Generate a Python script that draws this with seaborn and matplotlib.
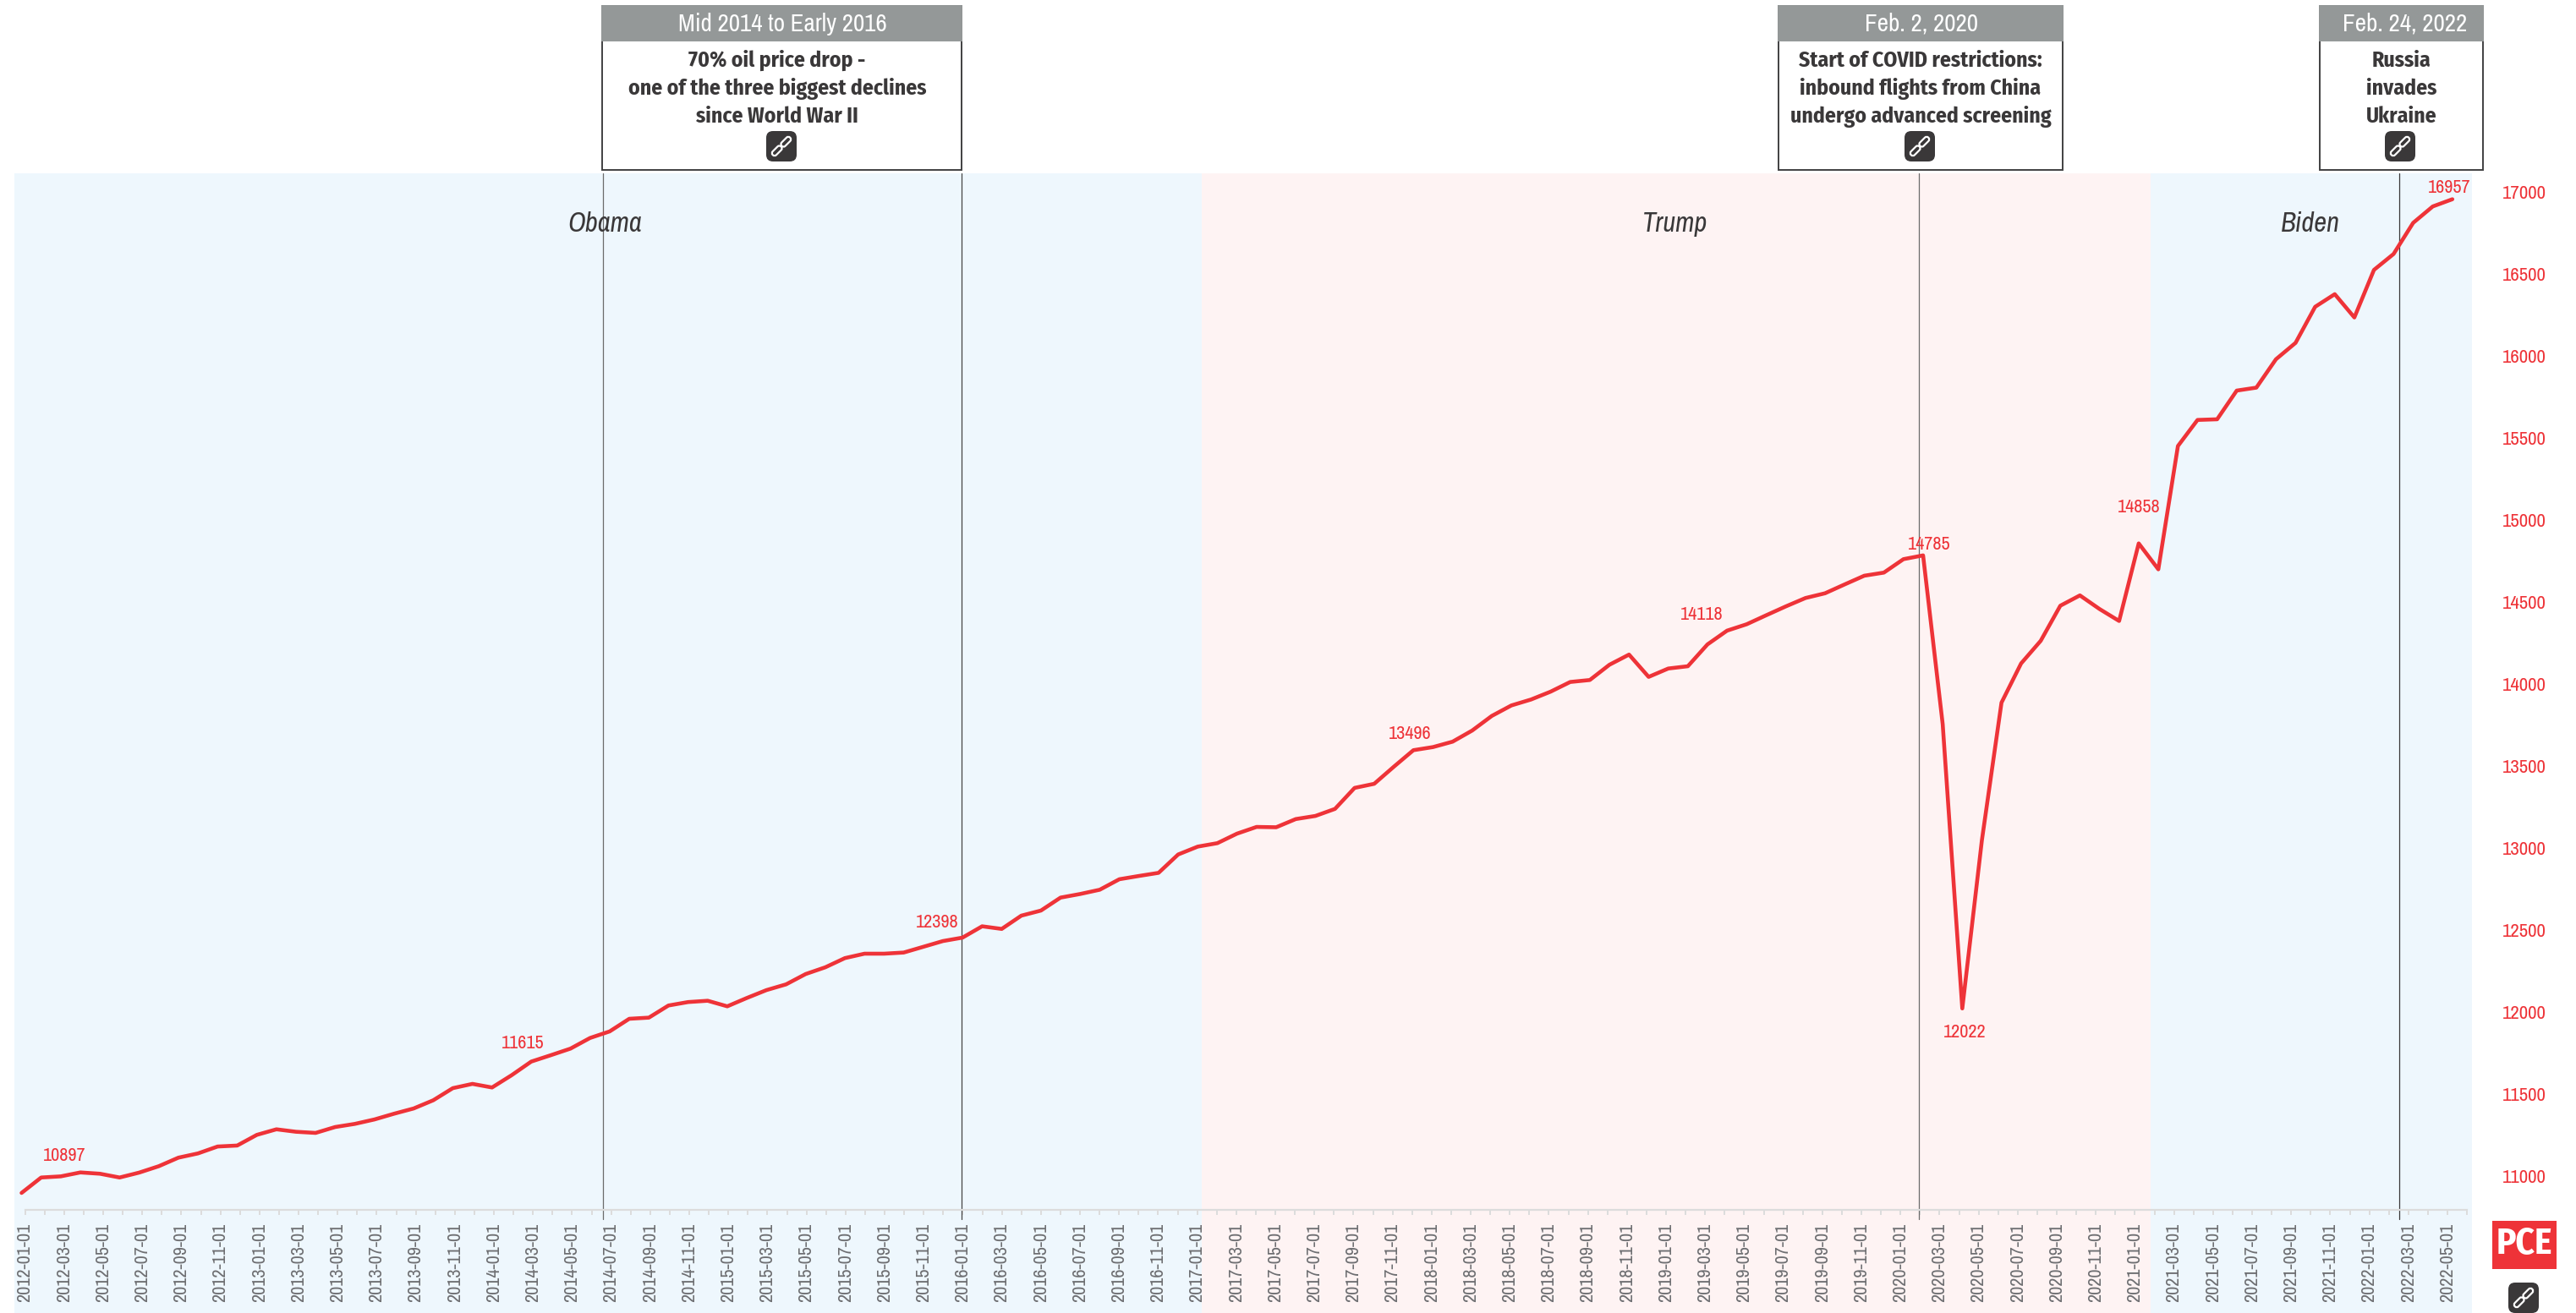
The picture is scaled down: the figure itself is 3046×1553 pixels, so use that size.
import pandas as pd
import matplotlib
matplotlib.use('Agg')
import matplotlib.pyplot as plt
from matplotlib.patches import FancyBboxPatch, Rectangle
from matplotlib.transforms import Affine2D
import seaborn as sns

NARROW = ['Archivo Narrow', 'Roboto Condensed', 'Liberation Sans', 'DejaVu Sans']
NARROW_BOLD = ['Fira Sans Condensed', 'Roboto Condensed', 'Liberation Sans', 'DejaVu Sans']
RED = '#ee3338'
DARK = '#3a3839'

# monthly PCE, 2012-01 to 2022-05
pce_values = [
    10897, 10991, 10998, 11022, 11014, 10991, 11021, 11060, 11112, 11138, 11180, 11186,
    11251, 11285, 11270, 11263, 11299, 11318, 11345, 11380, 11412, 11462, 11536, 11562,
    11540, 11615, 11698, 11737, 11777, 11842, 11882, 11959, 11966, 12040, 12061, 12069,
    12035, 12086, 12134, 12169, 12232, 12273, 12329, 12356, 12356, 12363, 12398, 12433,
    12454, 12523, 12507, 12588, 12619, 12698, 12720, 12746, 12810, 12830, 12849, 12961,
    13009, 13030, 13088, 13129, 13127, 13177, 13196, 13239, 13367, 13392, 13496, 13597,
    13616, 13649, 13717, 13806, 13870, 13906, 13954, 14013, 14025, 14118, 14180, 14044,
    14095, 14109, 14242, 14326, 14365, 14420, 14474, 14525, 14554, 14608, 14661, 14680,
    14762, 14785, 13756, 12022, 13048, 13887, 14126, 14264, 14478, 14541, 14458, 14385,
    14858, 14700, 15452, 15611, 15615, 15790, 15808, 15981, 16081, 16301, 16378, 16236,
    16526, 16623, 16813, 16913, 16957,
]

date_labels = [
    '2012-01-01', '2012-03-01', '2012-05-01', '2012-07-01', '2012-09-01', '2012-11-01',
    '2013-01-01', '2013-03-01', '2013-05-01', '2013-07-01', '2013-09-01', '2013-11-01',
    '2014-01-01', '2014-03-01', '2014-05-01', '2014-07-01', '2014-09-01', '2014-11-01',
    '2015-01-01', '2015-03-01', '2015-05-01', '2015-07-01', '2015-09-01', '2015-11-01',
    '2016-01-01', '2016-03-01', '2016-05-01', '2016-07-01', '2016-09-01', '2016-11-01',
    '2017-01-01', '2017-03-01', '2017-05-01', '2017-07-01', '2017-09-01', '2017-11-01',
    '2018-01-01', '2018-03-01', '2018-05-01', '2018-07-01', '2018-09-01', '2018-11-01',
    '2019-01-01', '2019-03-01', '2019-05-01', '2019-07-01', '2019-09-01', '2019-11-01',
    '2020-01-01', '2020-03-01', '2020-05-01', '2020-07-01', '2020-09-01', '2020-11-01',
    '2021-01-01', '2021-03-01', '2021-05-01', '2021-07-01', '2021-09-01', '2021-11-01',
    '2022-01-01', '2022-03-01', '2022-05-01',
]

y_ticks = [11000, 11500, 12000, 12500, 13000, 13500, 14000, 14500, 15000, 15500, 16000, 16500, 17000]

# which points carry a number, and where the number sits relative to them (pixels)
label_index = [0, 25, 46, 70, 81, 97, 99, 108, 124]
label_dx = [51, 13, 16, 19, 109, 7, 3, 0, -4]
label_dy = [44, 38, 29, 39, 59, 13, -28, 43, 14]

# terms in month units
terms = ['Obama', 'Trump', 'Biden']
term_start = [-0.37, 60.2, 108.6]
term_end = [60.2, 108.6, 125.0]
term_color = ['#eef7fd', '#fef3f3', '#eef7fd']
term_label_px = [715, 1981, 2732]

event_x = [29.66, 47.93, 96.8, 121.3]

event_heads = ['Mid 2014 to Early 2016', 'Feb. 2, 2020', 'Feb. 24, 2022']
event_texts = [
    ['70% oil price drop -', 'one of the three biggest declines', 'since World War II'],
    ['Start of COVID restrictions:', 'inbound flights from China', 'undergo advanced screening'],
    ['Russia', 'invades', 'Ukraine'],
]
box_left = [712, 2103, 2743]
box_right = [1137, 2439, 2936]
head_px = [925, 2272, 2844]
body_px = [919, 2271, 2840]
icon_px = [924, 2270, 2838]

W, H = 3046, 1553
PX_LEFT, PX_RIGHT, PX_TOP = 17, 2923, 205
X0, DX = 25.5, 23.18      # pixel of first point, pixels per month
Y17K, PY = 227.3, 0.19395  # pixel of 17000, pixels per unit


def link_icon(ax, cx, cy):
    ax.add_patch(FancyBboxPatch((cx - 14, cy - 14), 28, 28, boxstyle='round,pad=4,rounding_size=8',
                                fc=DARK, ec='none', zorder=5))
    rot = Affine2D().rotate_deg_around(cx, cy, -45) + ax.transData
    for off in (-7.5, 7.5):
        ax.add_patch(FancyBboxPatch((cx + off - 7, cy - 3), 14, 6, boxstyle='round,pad=0,rounding_size=3',
                                    fc='none', ec='white', lw=1.6, transform=rot, zorder=6))


def main():
    sns.set_style('white')
    plt.rcParams['font.family'] = NARROW

    df = pd.DataFrame({'month': range(len(pce_values)), 'pce': pce_values})

    fig = plt.figure(figsize=(W / 100, H / 100), dpi=100)
    ax = fig.add_axes([PX_LEFT / W, 0, (PX_RIGHT - PX_LEFT) / W, (H - PX_TOP) / H])

    for start, end, color in zip(term_start, term_end, term_color):
        ax.axvspan(start, end, color=color, lw=0, zorder=0)

    y_axis = 17000 - (1431 - Y17K) / PY
    y_bottom = 17000 - (H - Y17K) / PY
    y_top = 17000 + (Y17K - PX_TOP) / PY

    for x, color in zip(event_x, ['#6b6b6b', '#444444', '#6b6b6b', '#3a3839']):
        ax.plot([x, x], [17000 - (1442 - Y17K) / PY, y_top], color=color, lw=0.9, zorder=2)

    sns.lineplot(data=df, x='month', y='pce', color=RED, linewidth=3.3, ax=ax, zorder=3)

    for i, dx, dy in zip(label_index, label_dx, label_dy):
        ax.annotate(str(pce_values[i]), xy=(i, pce_values[i]), xytext=(dx, dy), textcoords='offset pixels',
                    ha='center', va='center', color=RED, fontsize=16, zorder=4)

    ax.set_xlim((PX_LEFT - X0) / DX, (PX_RIGHT - X0) / DX)
    ax.set_ylim(y_bottom, y_top)
    ax.set_xlabel('')
    ax.set_ylabel('')

    for side in ['top', 'left', 'right']:
        ax.spines[side].set_visible(False)
    # set_position resets the ticks, so it has to come before the tick setup
    ax.spines['bottom'].set_position(('data', y_axis))

    # ticks run on a slightly different step than the line
    month_ticks = [(4.1 + 23.1 * k) / DX for k in range(126)]
    ax.set_xticks(month_ticks[::2][:len(date_labels)])
    ax.set_xticklabels(date_labels, rotation=90, color='#6d6e71', fontsize=16)
    ax.set_xticks(month_ticks, minor=True)
    ax.tick_params(axis='x', which='both', bottom=True, length=4.5, width=1.4, color='#dcdcdc')
    ax.tick_params(axis='x', which='major', pad=7)

    ax.spines['bottom'].set_bounds(month_ticks[0], month_ticks[-1])
    ax.spines['bottom'].set_color('#dcdcdc')
    ax.spines['bottom'].set_linewidth(1.6)

    ax.yaxis.tick_right()
    ax.set_yticks(y_ticks)
    ax.set_yticklabels([str(v) for v in y_ticks], color=RED, fontsize=16.5)
    ax.tick_params(axis='y', length=0, pad=26)

    # everything outside the plot is placed in figure pixels
    over = fig.add_axes([0, 0, 1, 1], zorder=5)
    over.set_xlim(0, W)
    over.set_ylim(H, 0)
    over.axis('off')

    for name, px in zip(terms, term_label_px):
        over.text(px, 265.5, name, ha='center', va='center', style='italic', fontsize=23.5, color=DARK)

    for i, head in enumerate(event_heads):
        left, right = box_left[i], box_right[i]
        over.add_patch(Rectangle((left, 7), right - left, 194, fc='white', ec='#404041', lw=1.4))
        over.add_patch(Rectangle((left, 7), right - left, 41, fc='#949898', ec='#949898', lw=1.4))
        over.text(head_px[i], 28, head, ha='center', va='center', color='white', fontsize=21)
        for line, py in zip(event_texts[i], [71.5, 105, 138]):
            over.text(body_px[i], py, line, ha='center', va='center', color=DARK, fontsize=18.5,
                      fontweight='bold', family=NARROW_BOLD)
        link_icon(over, icon_px[i], 173)

    over.add_patch(Rectangle((2947, 1444), 76, 57, fc=RED, ec='none'))
    over.text(2985, 1472, 'PCE', ha='center', va='center', color='white', fontsize=31,
              fontweight='bold', family=NARROW_BOLD)
    link_icon(over, 2984, 1535)

    fig.savefig('out.png', dpi=100)


if __name__ == "__main__":
    main()
